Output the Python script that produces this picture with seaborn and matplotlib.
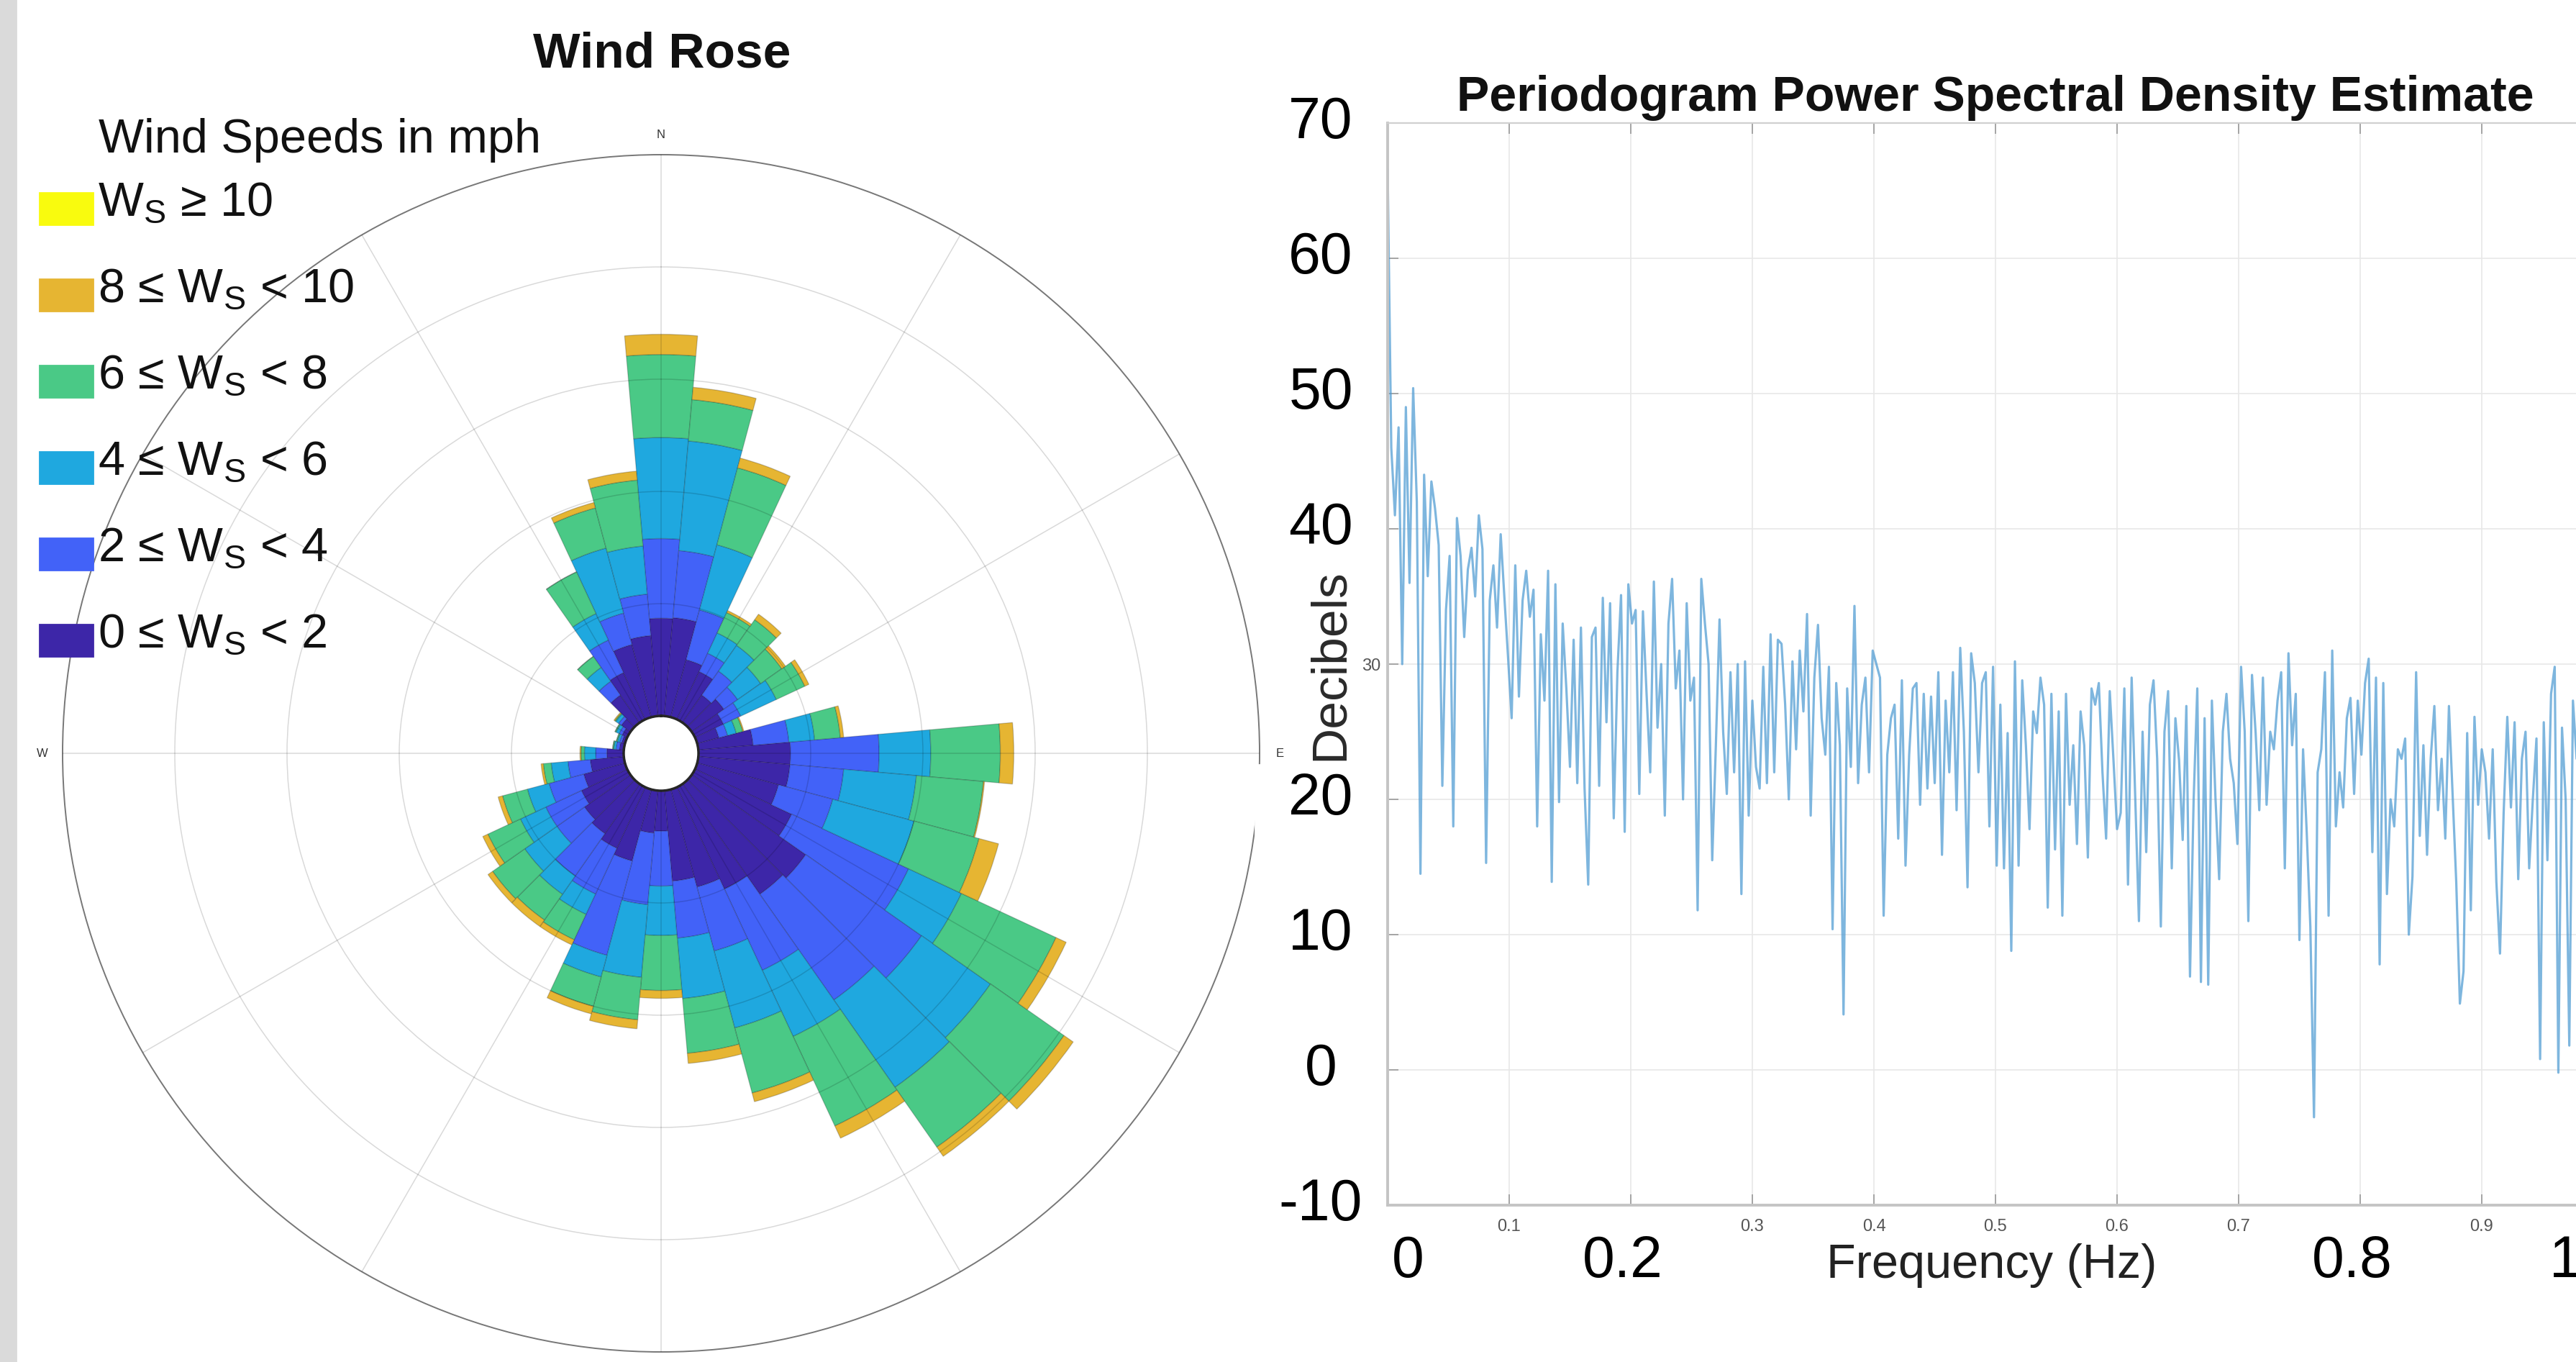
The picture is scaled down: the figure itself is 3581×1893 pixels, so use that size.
import numpy as np
import pandas as pd
import matplotlib
matplotlib.use("Agg")
import matplotlib.pyplot as plt
from matplotlib.patches import Rectangle
import seaborn as sns

# ---------------- wind rose data: % of time per 10 deg sector (clockwise from N) ----------------
directions_deg = list(range(0, 360, 10))
freq_0_2 = [0.87, 0.88, 0.53, 0.47, 0.30, 0.35, 0.28, 0.20, 0.49, 0.82, 0.82, 0.75,
            0.95, 1.24, 1.20, 1.00, 0.90, 0.81, 0.36, 0.38, 0.66, 0.60, 0.54, 0.50,
            0.45, 0.38, 0.30, 0.15, 0.04, 0.03, 0.05, 0.10, 0.30, 0.46, 0.67, 0.72]
freq_2_4 = [0.71, 0.60, 0.46, 0.18, 0.26, 0.15, 0.17, 0.08, 0.32, 0.79, 0.48, 0.50,
            1.15, 1.26, 1.15, 0.80, 0.59, 0.51, 0.49, 0.64, 0.87, 0.45, 0.46, 0.30,
            0.35, 0.32, 0.20, 0.10, 0.03, 0.02, 0.03, 0.03, 0.15, 0.32, 0.29, 0.37]
freq_4_6 = [0.90, 0.98, 0.60, 0.20, 0.28, 0.25, 0.35, 0.08, 0.23, 0.46, 0.65, 0.75,
            0.52, 0.75, 0.95, 0.65, 0.71, 0.54, 0.44, 0.65, 0.20, 0.20, 0.20, 0.35,
            0.25, 0.20, 0.15, 0.10, 0.02, 0.02, 0.03, 0.03, 0.15, 0.26, 0.60, 0.43]
freq_6_8 = [0.74, 0.37, 0.71, 0.20, 0.28, 0.23, 0.28, 0.06, 0.23, 0.62, 0.60, 0.60,
            0.93, 0.80, 0.65, 0.88, 0.60, 0.49, 0.49, 0.38, 0.27, 0.25, 0.28, 0.35,
            0.32, 0.23, 0.07, 0.03, 0.01, 0.01, 0.01, 0.01, 0.12, 0.41, 0.37, 0.59]
freq_8_10 = [0.18, 0.11, 0.09, 0.02, 0.06, 0.04, 0.04, 0.01, 0.03, 0.12, 0.01, 0.18,
             0.10, 0.10, 0.10, 0.12, 0.08, 0.09, 0.07, 0.08, 0.07, 0.05, 0.07, 0.05,
             0.05, 0.04, 0.02, 0.01, 0.00, 0.00, 0.00, 0.01, 0.00, 0.00, 0.05, 0.08]
freq_10_up = [0.00, 0.00, 0.00, 0.00, 0.00, 0.00, 0.00, 0.00, 0.00, 0.00, 0.00, 0.00,
              0.00, 0.00, 0.00, 0.00, 0.00, 0.00, 0.00, 0.00, 0.00, 0.00, 0.00, 0.00,
              0.00, 0.00, 0.00, 0.00, 0.00, 0.00, 0.00, 0.00, 0.00, 0.00, 0.00, 0.00]

bin_labels = ["0 ≤ W$_{\\mathrm{S}}$ < 2", "2 ≤ W$_{\\mathrm{S}}$ < 4", "4 ≤ W$_{\\mathrm{S}}$ < 6",
              "6 ≤ W$_{\\mathrm{S}}$ < 8", "8 ≤ W$_{\\mathrm{S}}$ < 10", "W$_{\\mathrm{S}}$ ≥ 10"]
bin_colors = ["#3d26a8", "#4262f8", "#1fa8df", "#4ac986", "#e6b532", "#f9fb0e"]

# ---------------- periodogram data (dB), frequency step 0.003 Hz ----------------
psd_db = [
    66.6, 46, 41, 47.5, 30, 49, 36, 50.4, 42, 14.5, 44, 36.5, 43.5, 41.5, 38.8, 21, 34, 38, 18, 40.8,
    38, 32, 37, 38.6, 35, 41, 38.5, 15.3, 34.7, 37.3, 32.7, 39.6, 35, 30.6, 26, 37.3, 27.6, 34.7, 36.9, 33.5,
    35.5, 18, 32.2, 27.3, 36.9, 13.9, 35.9, 19.8, 33, 28.2, 22.4, 31.8, 21.2, 32.7, 20.8, 13.7, 32, 32.7, 21, 34.9,
    25.7, 34.5, 18.6, 29.4, 35.1, 17.6, 35.9, 33, 34, 20.4, 33.9, 27.8, 22, 36.1, 25.3, 30, 18.8, 33, 36.3, 28.2,
    31, 20, 34.5, 27.3, 29, 11.8, 36.3, 33, 30, 15.5, 24, 33.3, 25, 20.4, 29.4, 22, 30, 13, 30.2, 18.8,
    27.3, 22.4, 20.8, 29.8, 21.2, 32.2, 22, 31.8, 31.5, 27, 20, 30.2, 23.7, 31, 26.5, 33.7, 18.8, 29, 32.9, 26,
    23.3, 29.8, 10.4, 28.6, 24, 4.1, 28.2, 22.4, 34.3, 21.2, 27, 29, 22, 31, 30, 29, 11.4, 23.3, 26, 27,
    17.1, 28.8, 15.1, 23.3, 28.2, 28.6, 19.6, 27.8, 20.8, 27.6, 21.2, 29.4, 15.9, 27.3, 22, 29.4, 19.2, 31.2, 25, 13.5,
    30.8, 28.6, 22, 28.6, 29.4, 18, 29.8, 15.1, 27, 14.9, 24.9, 8.8, 30.2, 15.1, 28.8, 24, 17.8, 26.5, 24.9, 29,
    27, 12, 27.8, 16.3, 26.5, 11.4, 27.8, 19.6, 24, 16.7, 26.5, 24, 15.7, 28.2, 27, 28.6, 22, 17.1, 28, 23,
    17.8, 19, 28.2, 13.7, 29, 20, 11, 25, 16.1, 27, 28.8, 23, 10.6, 25, 28, 14.9, 26, 22.9, 17, 26.9,
    6.9, 20, 28.2, 6.5, 26, 6.3, 27.3, 20, 14.1, 25, 27.8, 23, 21.2, 16.7, 29.8, 25, 11, 29.2, 24.9, 19.2,
    29, 19.6, 25, 23.7, 27.3, 29.4, 14.9, 30.8, 24, 27.8, 9.6, 23.7, 17.6, 10.6, -3.5, 22, 23.7, 29.4, 11.4, 31,
    18, 22, 19.4, 26, 27.5, 20.4, 27.3, 23.3, 28.6, 30.4, 16.1, 29, 7.8, 28.6, 13, 20, 18, 23.7, 23, 24.5,
    10, 14.3, 29.4, 17.3, 24, 15.9, 23, 26.9, 19.2, 23, 17.1, 26.9, 20.4, 13.9, 4.9, 7.3, 24.9, 11.8, 26.1, 19.6,
    23.7, 22, 17.1, 23.7, 13.9, 8.6, 19, 26.1, 19.4, 25.7, 14.1, 23, 25, 14.9, 20, 24.5, 0.8, 25.7, 15.5, 27.8,
    29.8, -0.2, 25.3, 20, 1.8, 27.3, 23,
]
freq_hz = np.arange(len(psd_db)) * 0.003

big_x_ticks = [0.0166, 0.1935, 0.7935, 0.969]
big_x_labels = ["0", "0.2", "0.8", "1"]
big_y_ticks = [70, 60, 50, 40, 20, 10, 0, -10]
small_x_labels = ["", "0.1", "", "0.3", "0.4", "0.5", "0.6", "0.7", "", "0.9", ""]
small_y_labels = ["", "", "", "", "30", "", "", "", ""]

# ---------------- style ----------------
sns.set_theme(style="white")
plt.rcParams["font.family"] = ["Liberation Sans", "DejaVu Sans"]
plt.rcParams["mathtext.fontset"] = "custom"
plt.rcParams["mathtext.rm"] = "Liberation Sans"
plt.rcParams["mathtext.it"] = "Liberation Sans:italic"
plt.rcParams["mathtext.bf"] = "Liberation Sans:bold"

W, H, DPI = 3581, 1893, 200
fig = plt.figure(figsize=(W / DPI, H / DPI), dpi=DPI, facecolor="white")


def fx(px):
    return px / W


def fy(py):
    return 1 - py / H


# left grey strip of the screenshot
fig.patches.append(Rectangle((0, 0), fx(22), 1, transform=fig.transFigure,
                             color="#dadada", zorder=0))

# ---------------- wind rose ----------------
rose_df = pd.DataFrame({"direction": directions_deg, "0-2": freq_0_2, "2-4": freq_2_4,
                        "4-6": freq_4_6, "6-8": freq_6_8, "8-10": freq_8_10, "10+": freq_10_up})
bin_cols = ["0-2", "2-4", "4-6", "6-8", "8-10", "10+"]

cx, cy, R = 919, 1047, 832
ax_rose = fig.add_axes([fx(cx - R), fy(cy + R), 2 * R / W, 2 * R / H], projection="polar")
ax_rose.set_facecolor("white")
theta = np.deg2rad(rose_df["direction"].to_numpy())
bottom = np.zeros(len(rose_df))
for col, color in zip(bin_cols, bin_colors):
    vals = rose_df[col].to_numpy()
    ax_rose.bar(theta, vals, width=np.deg2rad(10), bottom=bottom, color=color,
                edgecolor=(0, 0, 0, 0.2), linewidth=0 if col == "10+" else 0.5, zorder=1)
    bottom = bottom + vals

ax_rose.set_theta_zero_location("N")
ax_rose.set_theta_direction(-1)
ax_rose.set_ylim(0, 5)
ax_rose.set_rorigin(-1 / 3)
ax_rose.set_rticks([1, 2, 3, 4])
ax_rose.set_yticklabels([])
ax_rose.set_thetagrids(range(0, 360, 30),
                       labels=["N", "", "", "E", "", "", "S", "", "", "W", "", ""])
ax_rose.tick_params(axis="x", labelsize=6, labelcolor="#333", pad=-3)
ax_rose.grid(True, color="black", alpha=0.15, linewidth=0.55)
ax_rose.set_axisbelow(False)
ax_rose.spines["polar"].set_edgecolor("#777")
ax_rose.spines["polar"].set_linewidth(0.7)

fig.text(fx(920), fy(75), "Wind Rose", ha="center", va="center",
         fontsize=25, fontweight="bold", color="#111")

# legend (top entry is the fastest bin)
fig.text(fx(137), fy(212), "Wind Speeds in mph", ha="left", va="baseline",
         fontsize=24, color="#111")
for k, (label, color) in enumerate(zip(bin_labels[::-1], bin_colors[::-1])):
    base = 299 + 120 * k
    fig.patches.append(Rectangle((fx(55), fy(base + 13)), 74 / W, 44 / H,
                                 transform=fig.transFigure, color=color, zorder=2))
    fig.text(fx(136), fy(base), label, ha="left", va="baseline", fontsize=24, color="#111")

# ---------------- periodogram ----------------
psd_df = pd.DataFrame({"freq": freq_hz, "db": psd_db})
x0, y_top, y_bot, px_per_hz = 1929, 171, 1675, 1690
ax_psd = fig.add_axes([fx(x0), fy(y_bot), px_per_hz / W, (y_bot - y_top) / H])
ax_psd.set_zorder(3)
ax_psd.set_facecolor("white")
sns.lineplot(data=psd_df, x="freq", y="db", ax=ax_psd, color="#4d9ad2", linewidth=1.15,
             alpha=0.72, estimator=None, sort=False)
ax_psd.set_xlim(0, 1)
ax_psd.set_ylim(-10, 70)

ax_psd.set_xticks(np.round(np.arange(0, 1.01, 0.1), 1))
ax_psd.set_xticklabels(small_x_labels, fontsize=8.5, color="#555")
ax_psd.set_yticks(range(-10, 71, 10))
ax_psd.set_yticklabels(small_y_labels, fontsize=8.5, color="#555")
ax_psd.tick_params(direction="in", length=5.5, width=0.6, color="#999",
                   top=True, right=True, bottom=True, left=True)
ax_psd.tick_params(axis="x", pad=7)
ax_psd.tick_params(axis="y", pad=3.5)
ax_psd.grid(True, color="#e8e8e8", linewidth=0.6)
ax_psd.set_axisbelow(True)
for side in ["left", "bottom"]:
    ax_psd.spines[side].set_color("#c4c4c4")
    ax_psd.spines[side].set_linewidth(1.4)
for side in ["top", "right"]:
    ax_psd.spines[side].set_color("#d0d0d0")
    ax_psd.spines[side].set_linewidth(0.8)

ax_psd.set_title("Periodogram Power Spectral Density Estimate", fontsize=24.5,
                 fontweight="bold", color="#111", pad=6)
ax_psd.set_xlabel("Frequency (Hz)", fontsize=24, color="#222")
ax_psd.xaxis.set_label_coords(0.497, -0.0352)
ax_psd.set_ylabel("Decibels", fontsize=25, color="#2a2a2a")
ax_psd.yaxis.set_label_coords(-0.0284, 0.4993)

# large overlaid tick labels
for xv, lab in zip(big_x_ticks, big_x_labels):
    ax_psd.text(xv, -0.0525, lab, transform=ax_psd.get_xaxis_transform(),
                ha="center", va="center", fontsize=29, color="black")
for yv in big_y_ticks:
    ax_psd.text(-0.055, yv, str(yv), transform=ax_psd.get_yaxis_transform(),
                ha="center", va="center", fontsize=29, color="black")

# white box behind the "20" label, hiding the rose edge
fig.patches.append(Rectangle((fx(1745), fy(1196)), (1928 - 1745) / W, (1196 - 1063) / H,
                             transform=fig.transFigure, color="white", zorder=1))

fig.savefig("out.png", dpi=DPI, facecolor="white")
